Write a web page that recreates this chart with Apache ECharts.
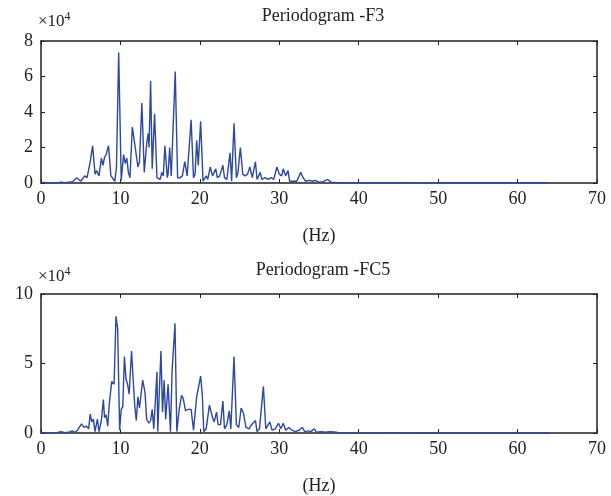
<!DOCTYPE html>
<html><head><meta charset="utf-8">
<script src="https://cdn.jsdelivr.net/npm/echarts@6/dist/echarts.min.js"></script>
<style>html,body{margin:0;padding:0;background:#fff}#c{width:611px;height:496px}</style>
</head><body><div id="c"></div>
<script>
// Frequencies (Hz) and power values (in units of 10^4)
const freqF3 = [0,0.5,1,1.5,2,2.5,3,3.5,4,4.5,5,5.5,5.8,6.2,6.5,6.8,7,7.3,7.6,7.8,8,8.2,8.5,8.8,9,9.3,9.5,9.78,10.1,10.4,10.6,10.8,11,11.2,11.5,11.8,12,12.2,12.4,12.7,13,13.3,13.5,13.6,13.8,14,14.3,14.6,15,15.2,15.4,15.6,15.9,16,16.2,16.4,16.9,17.2,17.5,17.8,18.1,18.4,18.9,19.2,19.4,19.6,19.8,20.1,20.4,20.6,20.8,21,21.3,21.6,21.8,22,22.2,22.5,22.9,23.1,23.4,23.8,24,24.3,24.6,24.8,25.1,25.4,25.7,26,26.3,26.6,27,27.2,27.6,27.8,28.2,28.6,29,29.3,29.7,30,30.3,30.5,30.8,31.1,31.3,31.7,32.2,32.7,33,33.3,33.8,34.2,34.5,35,35.5,36.1,36.5,37.5,40,45,50,55,60,64];
const powF3 = [0.02,0.03,0.01,0.02,0.01,0.05,0.02,0.04,0.08,0.3,0.1,0.4,0.3,1.2,2.1,0.5,0.7,0.4,1.4,1.0,1.45,1.6,2.1,0.4,0.3,0.1,0.9,7.35,0.15,1.6,1.1,1.4,0.6,0.3,3.15,2.2,2.1,0.9,1.2,4.5,0.6,2.2,2.8,2.0,5.75,0.8,3.9,0.3,0.2,0.6,0.4,2.1,0.3,0.5,2.0,0.4,6.28,0.3,0.3,0.4,1.2,0.4,3.56,0.3,0.5,2.4,1.0,3.47,0.1,0.1,0.4,0.2,0.9,0.4,0.5,0.8,0.3,0.4,1.0,0.3,0.2,1.7,0.1,3.37,0.3,0.6,2.0,0.5,0.4,0.5,0.9,0.3,1.2,0.2,0.6,0.2,0.3,0.2,0.3,0.2,0.9,0.5,0.4,0.8,0.4,0.7,0.1,0.1,0.1,0.6,0.3,0.1,0.15,0.1,0.15,0.05,0.08,0.2,0.05,0.02,0.01,0.01,0.005,0.005,0.005,0.005];
const freqFC5 = [0,1,2,2.5,3,3.5,3.9,4.3,4.6,5.1,5.4,5.7,6,6.2,6.4,6.6,6.8,7.1,7.3,7.6,7.85,8,8.2,8.4,8.6,8.9,9.2,9.44,9.65,9.9,10.1,10.3,10.5,10.7,10.9,11.1,11.4,11.6,11.8,12,12.2,12.4,12.8,13.1,13.3,13.6,13.8,14,14.2,14.6,14.7,15.1,15.3,15.5,15.7,16,16.3,16.5,16.87,17.1,17.4,17.7,17.9,18.2,18.5,18.9,19.2,19.6,19.9,20.1,20.3,20.5,20.8,21.2,21.4,21.6,21.8,22.1,22.3,22.6,22.9,23.1,23.4,23.7,23.9,24.3,24.6,24.9,25.2,25.5,25.8,26.2,26.5,27,27.2,27.5,28,28.3,28.8,29.1,29.5,29.9,30.2,30.5,30.8,31.2,31.6,32,32.5,32.9,33.2,33.7,34,34.4,34.7,35.3,35.8,36.3,36.9,37.5,40,50,64];
const powFC5 = [0.02,0.01,0.03,0.1,0.02,0.05,0.15,0.05,0.2,0.65,0.4,0.5,0.3,1.36,0.8,1.0,0.1,1.0,0.1,0.9,2.4,1.1,1.3,0.5,2.1,3.7,3.5,8.4,7.5,0.2,1.7,1.9,5.5,3.9,3.5,2.8,5.9,3.9,2.0,0.9,2.6,1.8,3.8,2.9,1.0,0.7,0.9,1.7,0.3,4.4,0.1,5.9,1.5,3.8,1.0,3.5,0.1,4.4,7.9,0.1,1.7,2.7,2.5,1.6,1.7,1.7,0.2,2.6,3.5,4.1,2.8,0.1,0.3,2.0,2.1,1.1,0.8,1.5,0.6,0.6,2.3,0.3,0.6,1.6,0.3,5.5,0.6,0.4,1.8,1.4,0.4,0.3,0.6,0.9,0.1,0.3,3.35,0.3,0.8,0.2,0.3,0.7,0.3,0.7,0.2,0.4,0.2,0.1,0.2,0.4,0.1,0.15,0.1,0.3,0.05,0.1,0.05,0.1,0.08,0.02,0.01,0.005,0.005];
const xTicks = [0,10,20,30,40,50,60,70];
const yMaxF3 = 8, yStepF3 = 2;
const yMaxFC5 = 10, yStepFC5 = 5;
const titles = ['Periodogram -F3', 'Periodogram -FC5'];

const FONT = 'Liberation Serif';
const LINE = '#2D48A3';
const chart = echarts.init(document.getElementById('c'), null, {renderer: 'canvas'});
const grids = [
  {left: 41, right: 14, top: 41, height: 142},
  {left: 41, right: 14, top: 294, height: 142}
];
function xAxes(gi) {
  return [
    {gridIndex: gi, type: 'value', min: xTicks[0], max: xTicks[xTicks.length-1], interval: 10, position: 'bottom',
     name: '(Hz)', nameLocation: 'middle', nameGap: 44,
     nameTextStyle: {fontFamily: FONT, fontSize: 18, color: '#222'},
     axisLine: {show: true, onZero: false, lineStyle: {color: '#222', width: 1.5}},
     axisTick: {show: true, inside: true, length: 4, lineStyle: {color: '#222'}},
     axisLabel: {fontFamily: FONT, fontSize: 18, color: '#222', margin: 7},
     splitLine: {show: false}},
    {gridIndex: gi, type: 'value', min: xTicks[0], max: xTicks[xTicks.length-1], interval: 10, position: 'top',
     axisLine: {show: true, onZero: false, lineStyle: {color: '#222', width: 1.5}},
     axisTick: {show: true, inside: true, length: 4, lineStyle: {color: '#222'}},
     axisLabel: {show: false}, splitLine: {show: false}}
  ];
}
function yAxes(gi, max, step) {
  return [
    {gridIndex: gi, type: 'value', min: 0, max: max, interval: step, position: 'left',
     axisLine: {show: true, onZero: false, lineStyle: {color: '#222', width: 1.5}},
     axisTick: {show: true, inside: true, length: 4, lineStyle: {color: '#222'}},
     axisLabel: {fontFamily: FONT, fontSize: 18, color: '#222', margin: 8},
     splitLine: {show: false}},
    {gridIndex: gi, type: 'value', min: 0, max: max, interval: step, position: 'right',
     axisLine: {show: true, onZero: false, lineStyle: {color: '#222', width: 1.5}},
     axisTick: {show: true, inside: true, length: 4, lineStyle: {color: '#222'}},
     axisLabel: {show: false}, splitLine: {show: false}}
  ];
}
const titleStyle = {fontFamily: FONT, fontSize: 18, color: '#222', fontWeight: 'normal'};
const expRich = {
  fontWeight: 'normal',
  rich: {
    b: {fontFamily: FONT, fontSize: 17, color: '#222', fontWeight: 'normal'},
    s: {fontFamily: FONT, fontSize: 12, color: '#222', fontWeight: 'normal', verticalAlign: 'top', padding: [0,0,9,0]}
  }
};
chart.setOption({
  animation: false,
  backgroundColor: '#fff',
  title: [
    {text: titles[0], left: 318, top: 2, textAlign: 'center', textStyle: titleStyle},
    {text: titles[1], left: 318, top: 256, textAlign: 'center', textStyle: titleStyle},
    {text: '{b|×10}{s|4}', left: 33, top: 6, textStyle: expRich},
    {text: '{b|×10}{s|4}', left: 33, top: 261, textStyle: expRich}
  ],
  grid: grids,
  xAxis: [...xAxes(0), ...xAxes(1)],
  yAxis: [...yAxes(0, yMaxF3, yStepF3), ...yAxes(1, yMaxFC5, yStepFC5)],
  series: [
    {type: 'line', xAxisIndex: 0, yAxisIndex: 0, showSymbol: false, symbol: 'none',
     data: freqF3.map((f, i) => [f, powF3[i]]), lineStyle: {color: LINE, width: 1.4}},
    {type: 'line', xAxisIndex: 2, yAxisIndex: 2, showSymbol: false, symbol: 'none',
     data: freqFC5.map((f, i) => [f, powFC5[i]]), lineStyle: {color: LINE, width: 1.4}}
  ]
});
</script></body></html>
